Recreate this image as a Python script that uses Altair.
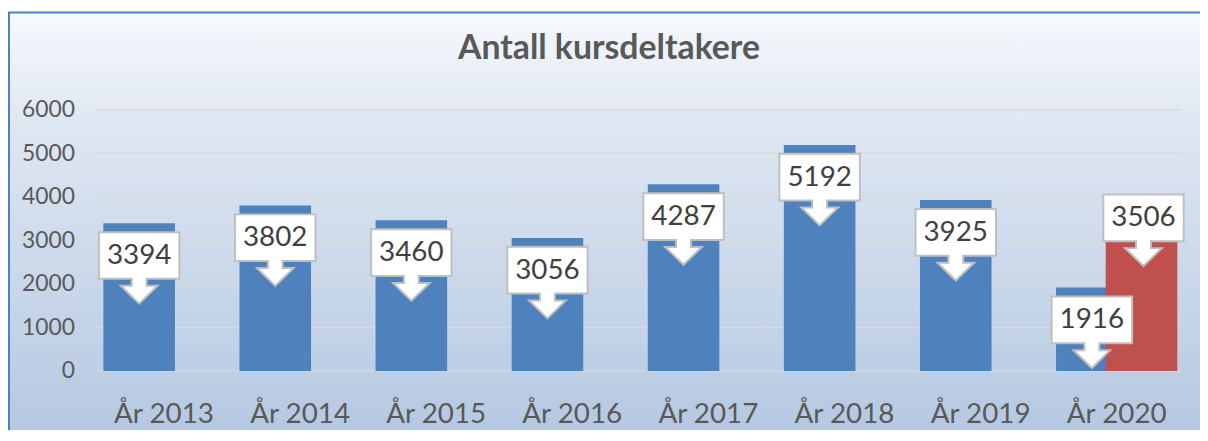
import altair as alt
import pandas as pd

# ---- data ----
categories = ["År 2013", "År 2014", "År 2015", "År 2016", "År 2017", "År 2018", "År 2019", "År 2020"]
values = [3394, 3802, 3460, 3056, 4287, 5192, 3925, 1916]
extra_category = ["År 2020"]
extra_values = [3506]
grid_values = [0, 1000, 2000, 3000, 4000, 5000, 6000]

main = pd.DataFrame({"cat": categories, "val": values})
extra = pd.DataFrame({"cat": extra_category, "val": extra_values})
grid = pd.DataFrame({"val": grid_values})

FONT = "Lato"
BLUE = "#4f81bd"
RED = "#c0504d"
CALLOUT = "M-40.5,9H40.5V56H7.5V63H18.5L0,81L-18.5,63H-7.5V56H-40.5Z"

xscale = alt.Scale(domain=categories, paddingInner=0.474, paddingOuter=0.222, align=0.115)
yscale = alt.Scale(domain=[0, 6000], nice=False)

x_enc = alt.X("cat:N", scale=xscale, sort=categories,
              axis=alt.Axis(title=None, labelAngle=0, domain=False, ticks=False, grid=False,
                            labelFont=FONT, labelFontSize=28, labelColor="#595959",
                            labelPadding=30, labelOffset=25, zindex=1))
y_enc = alt.Y("val:Q", scale=yscale,
              axis=alt.Axis(title=None, values=grid_values, grid=False, domain=False,
                            ticks=False, labelFont=FONT, labelFontSize=23, format="d",
                            labelColor="#595959", labelPadding=22, zindex=1))

gradient = alt.LinearGradient(
    gradient="linear",
    stops=[alt.GradientStop(color="#f7f9fd", offset=0),
           alt.GradientStop(color="#dfe7f2", offset=0.25),
           alt.GradientStop(color="#b3c7e1", offset=1)],
    x1=0, x2=0, y1=0, y2=1)

background = alt.Chart(grid).mark_rect(
    fill=gradient, stroke=BLUE, strokeWidth=2, clip=False
).encode(
    x=alt.value(-88), x2=alt.value(1120), y=alt.value(-98), y2=alt.value(340)
).transform_filter("datum.val == 0")

gridlines = alt.Chart(grid).mark_rule(color="#d9d9d9", strokeWidth=1.5).encode(y=y_enc)

bars = alt.Chart(main).mark_bar(color=BLUE).encode(x=x_enc, y=y_enc)
red_bar = alt.Chart(extra).mark_bar(color=RED, xOffset=50).encode(x=x_enc, y=y_enc)

callout = alt.Chart(main).mark_point(
    shape=CALLOUT, size=4, filled=True, fill="white", stroke="#bfbfbf",
    strokeWidth=2, opacity=1
).encode(x=x_enc, y=y_enc)
callout_text = alt.Chart(main).mark_text(
    font=FONT, fontSize=28, color="#404040", baseline="middle", yOffset=33
).encode(x=x_enc, y=y_enc, text="val:Q")

red_callout = alt.Chart(extra).mark_point(
    shape=CALLOUT, size=4, filled=True, fill="white", stroke="#bfbfbf",
    strokeWidth=2, opacity=1, xOffset=52, yOffset=-33
).encode(x=x_enc, y=y_enc)
red_text = alt.Chart(extra).mark_text(
    font=FONT, fontSize=28, color="#404040", baseline="middle", xOffset=52, yOffset=0
).encode(x=x_enc, y=y_enc, text="val:Q")

chart = alt.layer(
    background, gridlines, bars, red_bar, callout, callout_text, red_callout, red_text
).properties(
    width=1092, height=263,
    title=alt.TitleParams("Antall kursdeltakere", font=FONT, fontSize=34,
                          fontWeight="bold", color="#595959", anchor="middle",
                          baseline="alphabetic", frame="group",
                          dx=-30, dy=82, offset=0),
    autosize=alt.AutoSizeParams(type="none"),
    padding={"left": 89, "top": 101, "right": 19, "bottom": 58},
).configure_view(stroke=None).configure(background="white")

chart.save("out.html", embed_options={"renderer": "svg", "actions": False})
